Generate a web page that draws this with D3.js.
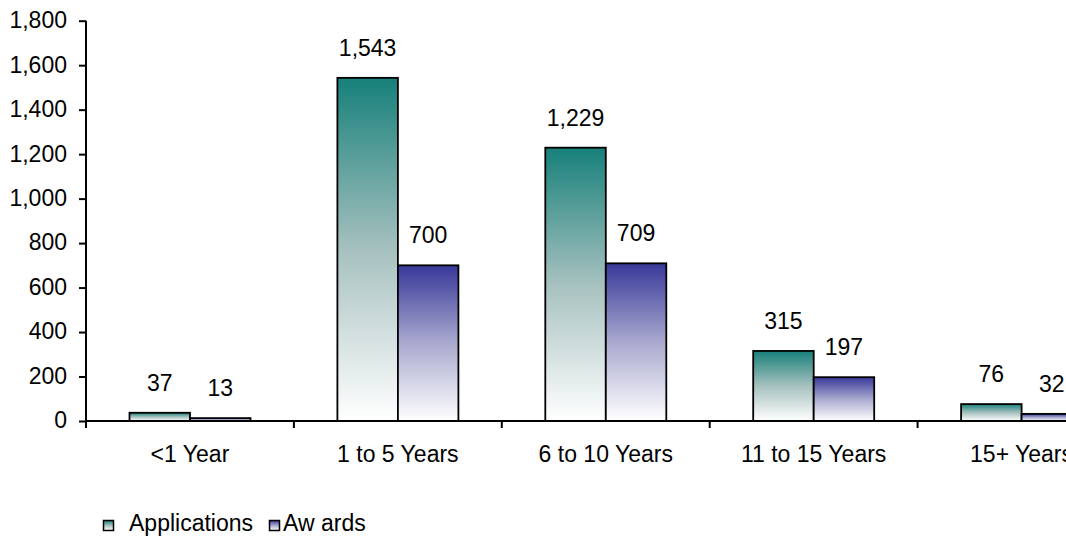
<!DOCTYPE html>
<html>
<head>
<meta charset="utf-8">
<script src="https://cdn.jsdelivr.net/npm/d3@7"></script>
<style>
  html, body { margin: 0; padding: 0; background: #fff; overflow: hidden; }
  svg { display: block; font-family: "Liberation Sans", Arial, sans-serif; }
</style>
</head>
<body>
<svg id="chart" width="1066" height="537"></svg>
<script>
const categories = ["<1 Year", "1 to 5 Years", "6 to 10 Years", "11 to 15 Years", "15+ Years"];
const seriesNames = ["Applications", "Awards"];
const legendLabels = ["Applications", "Aw ards"];
const applications = [37, 1543, 1229, 315, 76];
const awards = [13, 700, 709, 197, 32];
const yTicks = [0, 200, 400, 600, 800, 1000, 1200, 1400, 1600, 1800];

const seriesValues = [applications, awards];
const topColors = ["#17807a", "#38389a"];
const midColors = ["#a6c1bf", "#a9a9cf"];

const svg = d3.select("#chart");
const FONT = 23;
const x0 = 86, bandW = 207.9;
const x = d3.scaleBand().domain(categories).range([x0, x0 + bandW * categories.length]).padding(0);
const xs = d3.scaleBand().domain(seriesNames).range([43.5, 164.5]).padding(0);
const y = d3.scaleLinear().domain([0, 1800]).range([421, 20.7]);

// gradients
const defs = svg.append("defs");
seriesNames.forEach((s, i) => {
  const g = defs.append("linearGradient").attr("id", "grad" + i)
    .attr("x1", 0).attr("y1", 0).attr("x2", 0).attr("y2", 1);
  g.append("stop").attr("offset", "0%").attr("stop-color", topColors[i]);
  g.append("stop").attr("offset", "50%").attr("stop-color", midColors[i]);
  g.append("stop").attr("offset", "100%").attr("stop-color", "#ffffff");
});

// bars
const data = [];
categories.forEach((c, ci) => seriesNames.forEach((s, si) => data.push({ c, s, si, v: seriesValues[si][ci] })));

svg.append("g").selectAll("rect").data(data).join("rect")
  .attr("x", d => x(d.c) + xs(d.s))
  .attr("y", d => y(d.v))
  .attr("width", xs.bandwidth())
  .attr("height", d => y(0) - y(d.v))
  .attr("fill", d => `url(#grad${d.si})`)
  .attr("stroke", "#000")
  .attr("stroke-width", 1.8);

// value labels
const fmt = d3.format(",");
svg.append("g").selectAll("text").data(data).join("text")
  .attr("x", d => x(d.c) + xs(d.s) + xs.bandwidth() / 2)
  .attr("y", d => y(d.v) - 22)
  .attr("text-anchor", "middle")
  .attr("font-size", FONT)
  .attr("fill", "#000")
  .text(d => fmt(d.v));

// y axis
const yAxis = d3.axisLeft(y).tickValues(yTicks).tickSize(7).tickPadding(12).tickFormat(fmt);
const yg = svg.append("g").attr("transform", `translate(${x0},0)`).call(yAxis);
yg.select(".domain").attr("stroke", "#000").attr("stroke-width", 2).attr("d", `M0,${y(1800)}V${y(0) + 7}`);
yg.selectAll(".tick line").attr("stroke", "#000").attr("stroke-width", 2);
yg.selectAll(".tick text").attr("font-size", FONT).attr("font-family", "Liberation Sans, Arial, sans-serif")
  .attr("fill", "#000").attr("dy", "0.3em");

// x axis
const xAxis = d3.axisBottom(x).tickSize(0).tickPadding(0);
const xg = svg.append("g").attr("transform", `translate(0,${y(0)})`).call(xAxis);
xg.select(".domain").attr("stroke", "#000").attr("stroke-width", 2).attr("d", `M${x0},0H1066`);
xg.selectAll(".tick text").attr("font-size", FONT).attr("font-family", "Liberation Sans, Arial, sans-serif")
  .attr("fill", "#000").attr("y", 41).attr("dy", 0);
// boundary ticks
svg.append("g").selectAll("line").data(d3.range(categories.length + 1)).join("line")
  .attr("x1", i => x0 + i * bandW).attr("x2", i => x0 + i * bandW)
  .attr("y1", y(0)).attr("y2", y(0) + 7)
  .attr("stroke", "#000").attr("stroke-width", 2);

// legend
const legendX = [103.5, 269.5];
const legendTextX = [129, 283];
const lg = svg.append("g");
seriesNames.forEach((s, i) => {
  lg.append("rect").attr("x", legendX[i]).attr("y", 520.5).attr("width", 10).attr("height", 10)
    .attr("fill", `url(#grad${i})`).attr("stroke", "#000").attr("stroke-width", 1.5);
  lg.append("text").attr("x", legendTextX[i]).attr("y", 530.5)
    .attr("font-size", FONT).attr("fill", "#000").text(legendLabels[i]);
});
</script>
</body>
</html>
